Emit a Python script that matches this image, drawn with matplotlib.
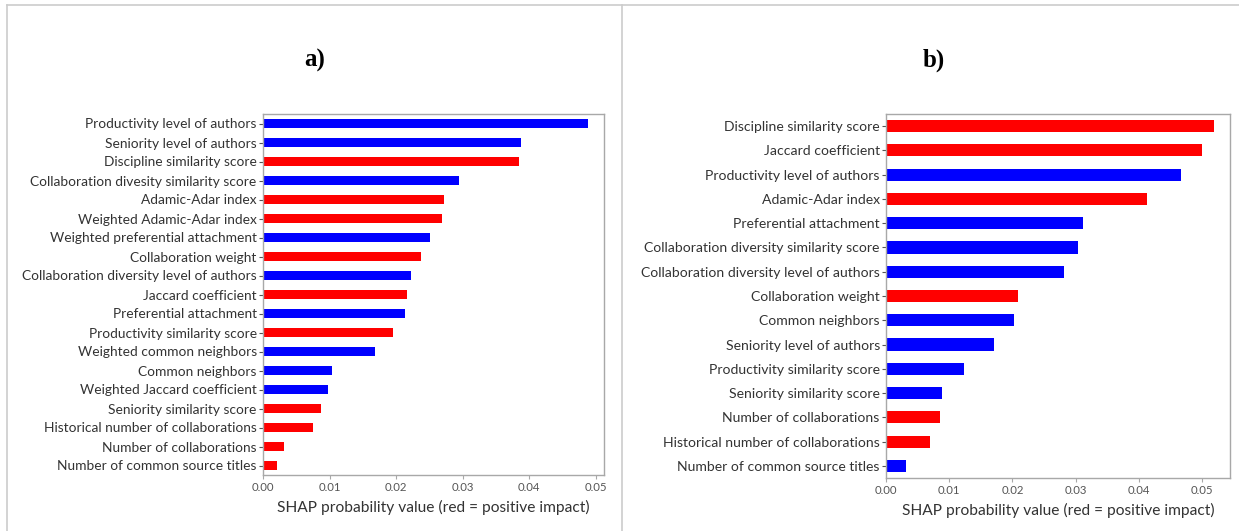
import matplotlib
matplotlib.use("Agg")
import matplotlib.pyplot as plt
from matplotlib.lines import Line2D

# Panel a) feature importances (top to bottom)
features_a = [
    "Productivity level of authors",
    "Seniority level of authors",
    "Discipline similarity score",
    "Collaboration divesity similarity score",
    "Adamic-Adar index",
    "Weighted Adamic-Adar index",
    "Weighted preferential attachment",
    "Collaboration weight",
    "Collaboration diversity level of authors",
    "Jaccard coefficient",
    "Preferential attachment",
    "Productivity similarity score",
    "Weighted common neighbors",
    "Common neighbors",
    "Weighted Jaccard coefficient",
    "Seniority similarity score",
    "Historical number of collaborations",
    "Number of collaborations",
    "Number of common source titles",
]
values_a = [0.0488, 0.0387, 0.0384, 0.0295, 0.0272, 0.0269, 0.0251, 0.0237,
            0.0222, 0.0217, 0.0214, 0.0195, 0.0168, 0.0103, 0.0098, 0.0087,
            0.0075, 0.0032, 0.0021]
positive_a = [False, False, True, False, True, True, False, True, False, True,
              False, True, False, False, False, True, True, True, True]

# Panel b) feature importances (top to bottom)
features_b = [
    "Discipline similarity score",
    "Jaccard coefficient",
    "Productivity level of authors",
    "Adamic-Adar index",
    "Preferential attachment",
    "Collaboration diversity similarity score",
    "Collaboration diversity level of authors",
    "Collaboration weight",
    "Common neighbors",
    "Seniority level of authors",
    "Productivity similarity score",
    "Seniority similarity score",
    "Number of collaborations",
    "Historical number of collaborations",
    "Number of common source titles",
]
values_b = [0.0518, 0.0500, 0.0467, 0.0413, 0.0311, 0.0304, 0.0282, 0.0208,
            0.0203, 0.0170, 0.0124, 0.0088, 0.0085, 0.0070, 0.0032]
positive_b = [True, True, False, True, False, False, False, True, False, False,
              False, False, True, True, False]

xticks = [0.00, 0.01, 0.02, 0.03, 0.04, 0.05]
xlabel = "SHAP probability value (red = positive impact)"

plt.rcParams["font.family"] = ["Lato", "DejaVu Sans"]

fig = plt.figure(figsize=(12.39, 5.31), dpi=100)

spine_col = "#a8a8a8"
text_col = "#333333"


def shap_panel(rect, names, vals, pos, title, title_x, label_size):
    ax = fig.add_axes(rect)
    n = len(names)
    ys = list(range(n - 1, -1, -1))
    colors = ["#ff0000" if p else "#0000ff" for p in pos]
    ax.barh(ys, vals, height=0.5, color=colors)
    ax.set_ylim(-0.5, n - 0.5)
    ax.set_xlim(0, max(vals) * 1.05)
    ax.set_yticks(ys)
    ax.set_yticklabels(names, fontsize=label_size, color=text_col)
    ax.set_xticks(xticks)
    ax.set_xticklabels([f"{t:.2f}" for t in xticks], fontsize=8.2, color="#555555")
    ax.tick_params(axis="y", length=3, width=0.8, color="#555555", pad=1.5)
    ax.tick_params(axis="x", length=3, width=0.8, color=spine_col, pad=2)
    for s in ax.spines.values():
        s.set_color(spine_col)
        s.set_linewidth(1.0)
    ax.set_xlabel(xlabel, fontsize=11.2, color=text_col, labelpad=5)
    fig.text(title_x, 1 - 60 / 531, title, fontsize=18, fontweight="bold",
             family="Liberation Serif", ha="center", va="center", color="black")
    return ax


shap_panel([263 / 1239, 56 / 531, 341 / 1239, 361 / 531],
           features_a, values_a, positive_a, "a)", 315 / 1239, 9.9)
shap_panel([886 / 1239, 53 / 531, 344 / 1239, 364 / 531],
           features_b, values_b, positive_b, "b)", 934 / 1239, 10.1)

# Frame lines around the two panels
frame_col = "#cccccc"
for xs, ys in [((7 / 1239, 1.0), (1 - 5 / 531, 1 - 5 / 531)),
               ((7 / 1239, 7 / 1239), (0.0, 1 - 5 / 531)),
               ((622 / 1239, 622 / 1239), (0.0, 1 - 5 / 531))]:
    fig.add_artist(Line2D(xs, ys, color=frame_col, linewidth=1.2,
                          transform=fig.transFigure))

fig.savefig("out.png", dpi=100, facecolor="white")
